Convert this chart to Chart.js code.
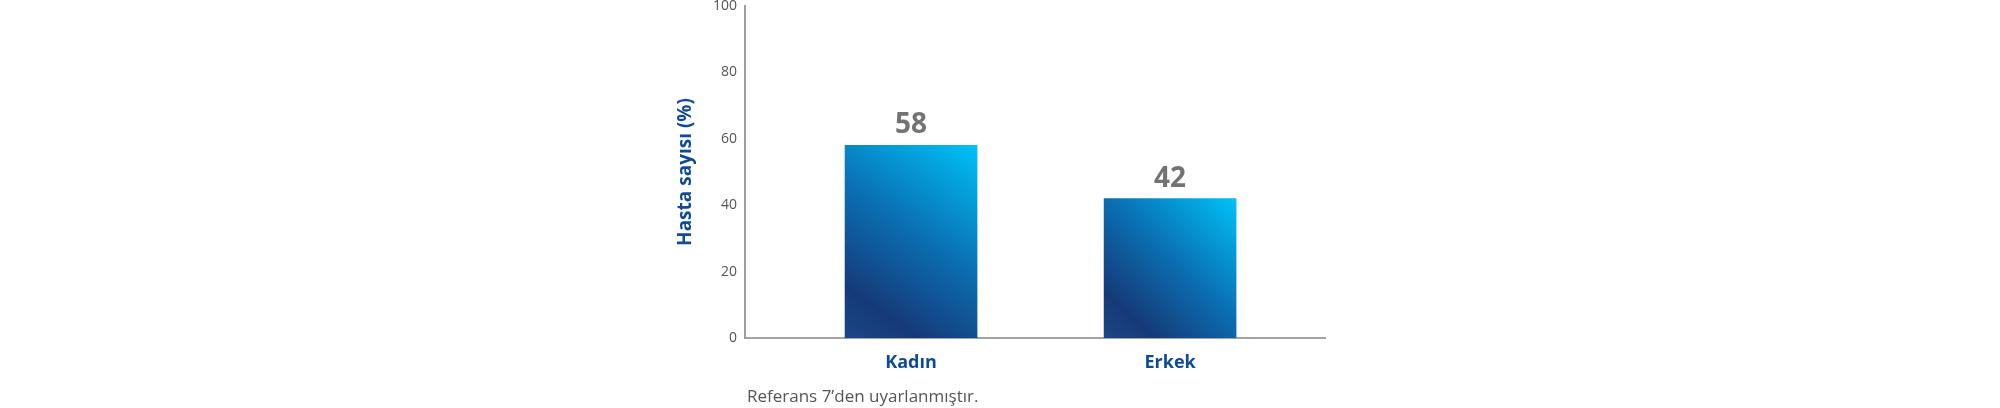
<!DOCTYPE html>
<html lang="tr">
<head>
<meta charset="utf-8">
<script src="https://cdn.jsdelivr.net/npm/chart.js@4.4.1/dist/chart.umd.min.js"></script>
<style>
    html, body { margin: 0; padding: 0; background: #fff; }
    #wrap { position: relative; width: 2000px; height: 408px; }
    #note {
        position: absolute; left: 747px; top: 384px;
        font-family: "Open Sans", sans-serif; font-size: 17px; color: #555;
        white-space: nowrap;
    }
</style>
</head>
<body>
<div id="wrap">
    <canvas id="genderChart" width="2000" height="408"></canvas>
    <div id="note">Referans 7’den uyarlanmıştır.</div>
</div>
<script>
var categories = ['Kadın', 'Erkek'];
var patientShare = [58, 42];
var yTicks = [0, 20, 40, 60, 80, 100];

// Draw the number above each bar
var valueLabels = {
    id: 'valueLabels',
    afterDatasetsDraw: function(chart) {
        var ctx = chart.ctx;
        var meta = chart.getDatasetMeta(0);
        ctx.save();
        ctx.font = 'bold 28px "Open Sans"';
        ctx.fillStyle = '#737373';
        ctx.textAlign = 'center';
        ctx.textBaseline = 'bottom';
        meta.data.forEach(function(bar, i) {
            ctx.fillText(String(patientShare[i]), bar.x, bar.y - 6);
        });
        ctx.restore();
    }
};

function barGradient(context) {
    var chart = context.chart;
    if (!chart.chartArea) return '#0a72b8';
    var xs = chart.scales.x, ys = chart.scales.y;
    var i = context.dataIndex;
    var cx = xs.getPixelForValue(i);
    var half = 66;
    var top = ys.getPixelForValue(patientShare[i]);
    var base = ys.getPixelForValue(0);
    var g = chart.ctx.createLinearGradient(cx - half, base, cx + half, top);
    g.addColorStop(0, '#1b4686');
    g.addColorStop(0.18, '#163a78');
    g.addColorStop(0.55, '#0a70b3');
    g.addColorStop(1, '#00c2f8');
    return g;
}

var ctx = document.getElementById('genderChart').getContext('2d');
var genderChart = new Chart(ctx, {
    type: 'bar',
    data: {
        datasets: [{
            data: patientShare.map(function(v, i) { return { x: i, y: v }; }),
            backgroundColor: barGradient,
            borderWidth: 0,
            barThickness: 132
        }]
    },
    options: {
        responsive: false,
        animation: false,
        events: [],
        layout: { padding: { left: 660, right: 675, top: 6, bottom: 30 } },
        plugins: { legend: { display: false }, tooltip: { enabled: false } },
        scales: {
            x: {
                type: 'linear',
                offset: false,
                min: -0.641,
                max: 1.598,
                afterBuildTicks: function(scale) {
                    scale.ticks = categories.map(function(c, i) { return { value: i }; });
                },
                afterFit: function(scale) {
                    scale.height = 40;
                    scale.paddingLeft = 0;
                    scale.paddingRight = 0;
                },
                grid: { display: false, drawTicks: false },
                border: { display: true, color: '#a3a3a3', width: 2 },
                ticks: {
                    padding: 14,
                    color: '#0f4a94',
                    font: { family: 'Open Sans', size: 18, weight: 'bold' },
                    callback: function(value) { return categories[value]; }
                }
            },
            y: {
                min: 0,
                max: 100,
                afterBuildTicks: function(scale) {
                    scale.ticks = yTicks.map(function(v) { return { value: v }; });
                },
                afterFit: function(scale) {
                    scale.width = 85;
                    scale.paddingTop = 0;
                    scale.paddingBottom = 0;
                },
                grid: { display: false, drawTicks: false },
                border: { display: true, color: '#9e9e9e', width: 2 },
                ticks: {
                    padding: 8,
                    color: '#555',
                    font: { family: 'Open Sans', size: 14 }
                },
                title: {
                    display: true,
                    text: 'Hasta sayısı (%)',
                    color: '#0f4a94',
                    padding: { top: 14, bottom: 0 },
                    font: { family: 'Open Sans', size: 19, weight: 'bold' }
                }
            }
        }
    },
    plugins: [valueLabels]
});
</script>
</body>
</html>
